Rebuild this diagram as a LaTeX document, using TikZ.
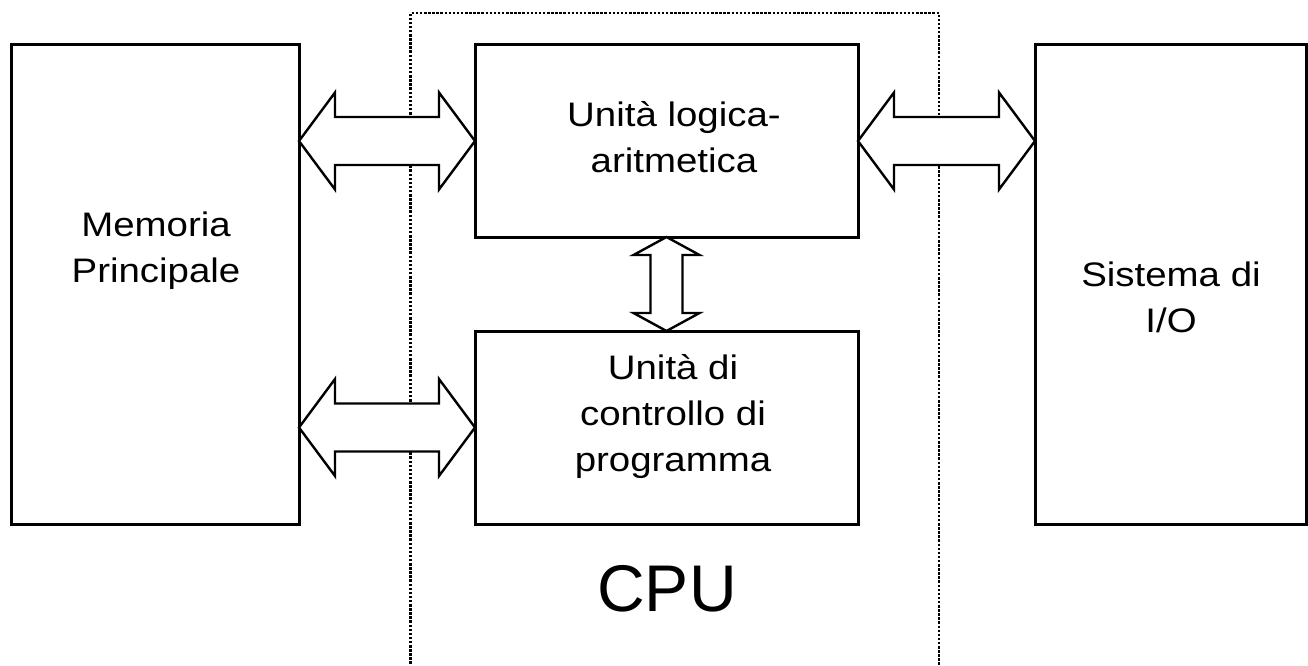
\documentclass[tikz,border=0pt]{standalone}
\usepackage{fontspec}
\setmainfont{Liberation Sans}
\usetikzlibrary{calc}
\begin{document}
\begin{tikzpicture}[x=1pt,y=-1pt,
  unit/.style={draw, line width=3pt, inner sep=0pt, outer sep=0pt},
  txt/.style={align=center, inner sep=0pt, outer sep=0pt, anchor=north,
    font=\fontsize{34}{46}\selectfont, xscale=1.13},
  bigtxt/.style={inner sep=0pt, outer sep=0pt, anchor=north,
    font=\fontsize{66}{70}\selectfont},
  barrow/.style={draw, line width=2.4pt, line join=miter, fill=white},
  cpuframe/.style={draw, line width=2.7pt, dash pattern=on 2.5pt off 1.6pt}]

\useasboundingbox (0,0) rectangle (1308,666);

% CPU boundary (open at the bottom edge)
\coordinate (cpuBL) at (410.7,668);
\coordinate (cpuTL) at (410.7,13);
\coordinate (cpuTR) at (939,13);
\coordinate (cpuBR) at (939,668);
\draw[cpuframe] (cpuBL) -- (cpuTL) -- (cpuTR) -- (cpuBR);

% blocks
\node[unit, minimum width=288pt, minimum height=479.5pt] (mem) at (155,284.5) {};
\node[unit, minimum width=383pt, minimum height=192pt] (alu) at (666.5,141) {};
\node[unit, minimum width=383pt, minimum height=193pt] (cu) at (666.5,427.5) {};
\node[unit, minimum width=271pt, minimum height=479pt] (io) at (1170.5,284.5) {};

% block texts
\node[txt] (memtxt) at (156,212) {Memoria\\Principale};
\node[txt] (alutxt) at (674,101) {Unità logica-\\aritmetica};
\node[txt] (cutxt) at (673,354) {Unità di\\controllo di\\programma};
\node[txt] (iotxt) at (1171,262) {Sistema di\\I/O};
\node[bigtxt] (cputxt) at (667,565) {CPU};

% horizontal double block arrow: #1 left tip, #2 right tip
\newcommand\hblock[2]{%
  \draw[barrow] let \p1=(#1), \p2=(#2) in
    (\x1,\y1) -- (\x1+36pt,\y1+48.5pt) -- (\x1+36pt,\y1+24pt)
    -- (\x2-36pt,\y1+24pt) -- (\x2-36pt,\y1+48.5pt) -- (\x2,\y2)
    -- (\x2-36pt,\y1-48.5pt) -- (\x2-36pt,\y1-24pt)
    -- (\x1+36pt,\y1-24pt) -- (\x1+36pt,\y1-48.5pt) -- cycle;}
% vertical double block arrow: #1 top tip, #2 bottom tip
\newcommand\vblock[2]{%
  \draw[barrow] let \p1=(#1), \p2=(#2) in
    (\x1,\y1) -- (\x1+33pt,\y1-18pt) -- (\x1+16pt,\y1-18pt)
    -- (\x1+16pt,\y2+18pt) -- (\x1+33pt,\y2+18pt) -- (\x2,\y2)
    -- (\x1-33pt,\y2+18pt) -- (\x1-16pt,\y2+18pt)
    -- (\x1-16pt,\y1-18pt) -- (\x1-33pt,\y1-18pt) -- cycle;}

\hblock{mem.east |- alu.west}{alu.west}
\hblock{mem.east |- cu.west}{cu.west}
\hblock{alu.east}{io.west |- alu.east}
\vblock{alu.south}{cu.north}

\end{tikzpicture}
\end{document}
